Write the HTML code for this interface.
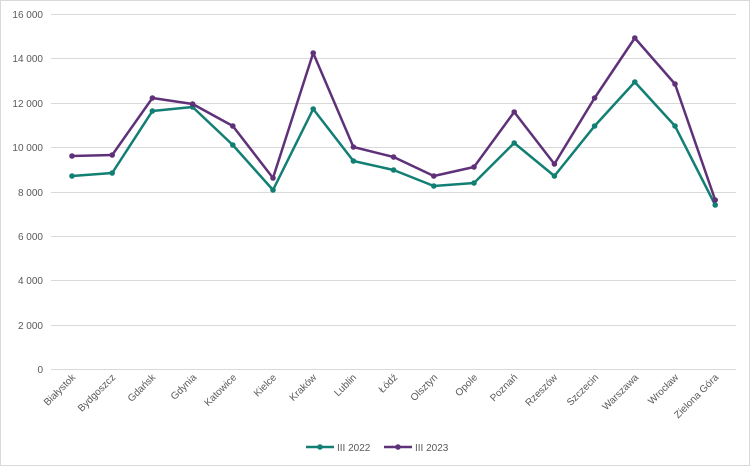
<!DOCTYPE html>
<html><head><meta charset="utf-8"><style>
html,body{margin:0;padding:0;background:#fff}
svg{display:block}
text{font-family:"Liberation Sans",sans-serif;font-size:10px;fill:#595959}
</style></head><body>
<svg width="750" height="466" viewBox="0 0 750 466" xmlns="http://www.w3.org/2000/svg">
<rect x="0.5" y="0.5" width="749" height="465" fill="#fff" stroke="#d9d9d9"/>
<g stroke="#d9d9d9" stroke-width="1">
<line x1="51" x2="736" y1="14.5" y2="14.5"/>
<line x1="51" x2="736" y1="58.5" y2="58.5"/>
<line x1="51" x2="736" y1="103.5" y2="103.5"/>
<line x1="51" x2="736" y1="147.5" y2="147.5"/>
<line x1="51" x2="736" y1="192.5" y2="192.5"/>
<line x1="51" x2="736" y1="236.5" y2="236.5"/>
<line x1="51" x2="736" y1="280.5" y2="280.5"/>
<line x1="51" x2="736" y1="325.5" y2="325.5"/>
<line x1="51" x2="736" y1="369.5" y2="369.5"/>
</g>
<g text-anchor="end">
<text x="43" y="18">16 000</text>
<text x="43" y="62">14 000</text>
<text x="43" y="107">12 000</text>
<text x="43" y="151">10 000</text>
<text x="43" y="196">8 000</text>
<text x="43" y="240">6 000</text>
<text x="43" y="284">4 000</text>
<text x="43" y="329">2 000</text>
<text x="43" y="373">0</text>
</g>
<g text-anchor="end">
<text transform="translate(76,378) rotate(-45)">Białystok</text>
<text transform="translate(116,378) rotate(-45)">Bydgoszcz</text>
<text transform="translate(156,378) rotate(-45)">Gdańsk</text>
<text transform="translate(197,378) rotate(-45)">Gdynia</text>
<text transform="translate(237,378) rotate(-45)">Katowice</text>
<text transform="translate(277,378) rotate(-45)">Kielce</text>
<text transform="translate(317,378) rotate(-45)">Kraków</text>
<text transform="translate(357,378) rotate(-45)">Lublin</text>
<text transform="translate(398,378) rotate(-45)">Łódź</text>
<text transform="translate(438,378) rotate(-45)">Olsztyn</text>
<text transform="translate(478,378) rotate(-45)">Opole</text>
<text transform="translate(518,378) rotate(-45)">Poznań</text>
<text transform="translate(558,378) rotate(-45)">Rzeszów</text>
<text transform="translate(599,378) rotate(-45)">Szczecin</text>
<text transform="translate(639,378) rotate(-45)">Warszawa</text>
<text transform="translate(679,378) rotate(-45)">Wrocław</text>
<text transform="translate(719,378) rotate(-45)">Zielona Góra</text>
</g>
<polyline fill="none" stroke="#127f74" stroke-width="2.5" stroke-linejoin="round" points="72,176 112.2,173 152.4,111 192.6,107 232.8,145 273,190 313.2,109 353.4,161 393.6,170 433.8,186 474,183 514.2,143 554.4,176 594.6,126 634.8,82 675,126 715.2,205"/>
<g fill="#127f74">
<circle cx="72" cy="176" r="2.8"/><circle cx="112.2" cy="173" r="2.8"/><circle cx="152.4" cy="111" r="2.8"/><circle cx="192.6" cy="107" r="2.8"/><circle cx="232.8" cy="145" r="2.8"/><circle cx="273" cy="190" r="2.8"/><circle cx="313.2" cy="109" r="2.8"/><circle cx="353.4" cy="161" r="2.8"/><circle cx="393.6" cy="170" r="2.8"/><circle cx="433.8" cy="186" r="2.8"/><circle cx="474" cy="183" r="2.8"/><circle cx="514.2" cy="143" r="2.8"/><circle cx="554.4" cy="176" r="2.8"/><circle cx="594.6" cy="126" r="2.8"/><circle cx="634.8" cy="82" r="2.8"/><circle cx="675" cy="126" r="2.8"/><circle cx="715.2" cy="205" r="2.8"/>
</g>
<polyline fill="none" stroke="#5f3179" stroke-width="2.5" stroke-linejoin="round" points="72,156 112.2,155 152.4,98 192.6,104 232.8,126 273,178 313.2,53 353.4,147 393.6,157 433.8,176 474,167 514.2,112 554.4,164 594.6,98 634.8,38 675,84 715.2,200"/>
<g fill="#5f3179">
<circle cx="72" cy="156" r="2.8"/><circle cx="112.2" cy="155" r="2.8"/><circle cx="152.4" cy="98" r="2.8"/><circle cx="192.6" cy="104" r="2.8"/><circle cx="232.8" cy="126" r="2.8"/><circle cx="273" cy="178" r="2.8"/><circle cx="313.2" cy="53" r="2.8"/><circle cx="353.4" cy="147" r="2.8"/><circle cx="393.6" cy="157" r="2.8"/><circle cx="433.8" cy="176" r="2.8"/><circle cx="474" cy="167" r="2.8"/><circle cx="514.2" cy="112" r="2.8"/><circle cx="554.4" cy="164" r="2.8"/><circle cx="594.6" cy="98" r="2.8"/><circle cx="634.8" cy="38" r="2.8"/><circle cx="675" cy="84" r="2.8"/><circle cx="715.2" cy="200" r="2.8"/>
</g>
<line x1="306" x2="334" y1="447" y2="447" stroke="#127f74" stroke-width="2.5"/>
<circle cx="320" cy="447" r="2.8" fill="#127f74"/>
<text x="337" y="451">III 2022</text>
<line x1="384" x2="412" y1="447" y2="447" stroke="#5f3179" stroke-width="2.5"/>
<circle cx="398" cy="447" r="2.8" fill="#5f3179"/>
<text x="415" y="451">III 2023</text>
</svg>
</body></html>
